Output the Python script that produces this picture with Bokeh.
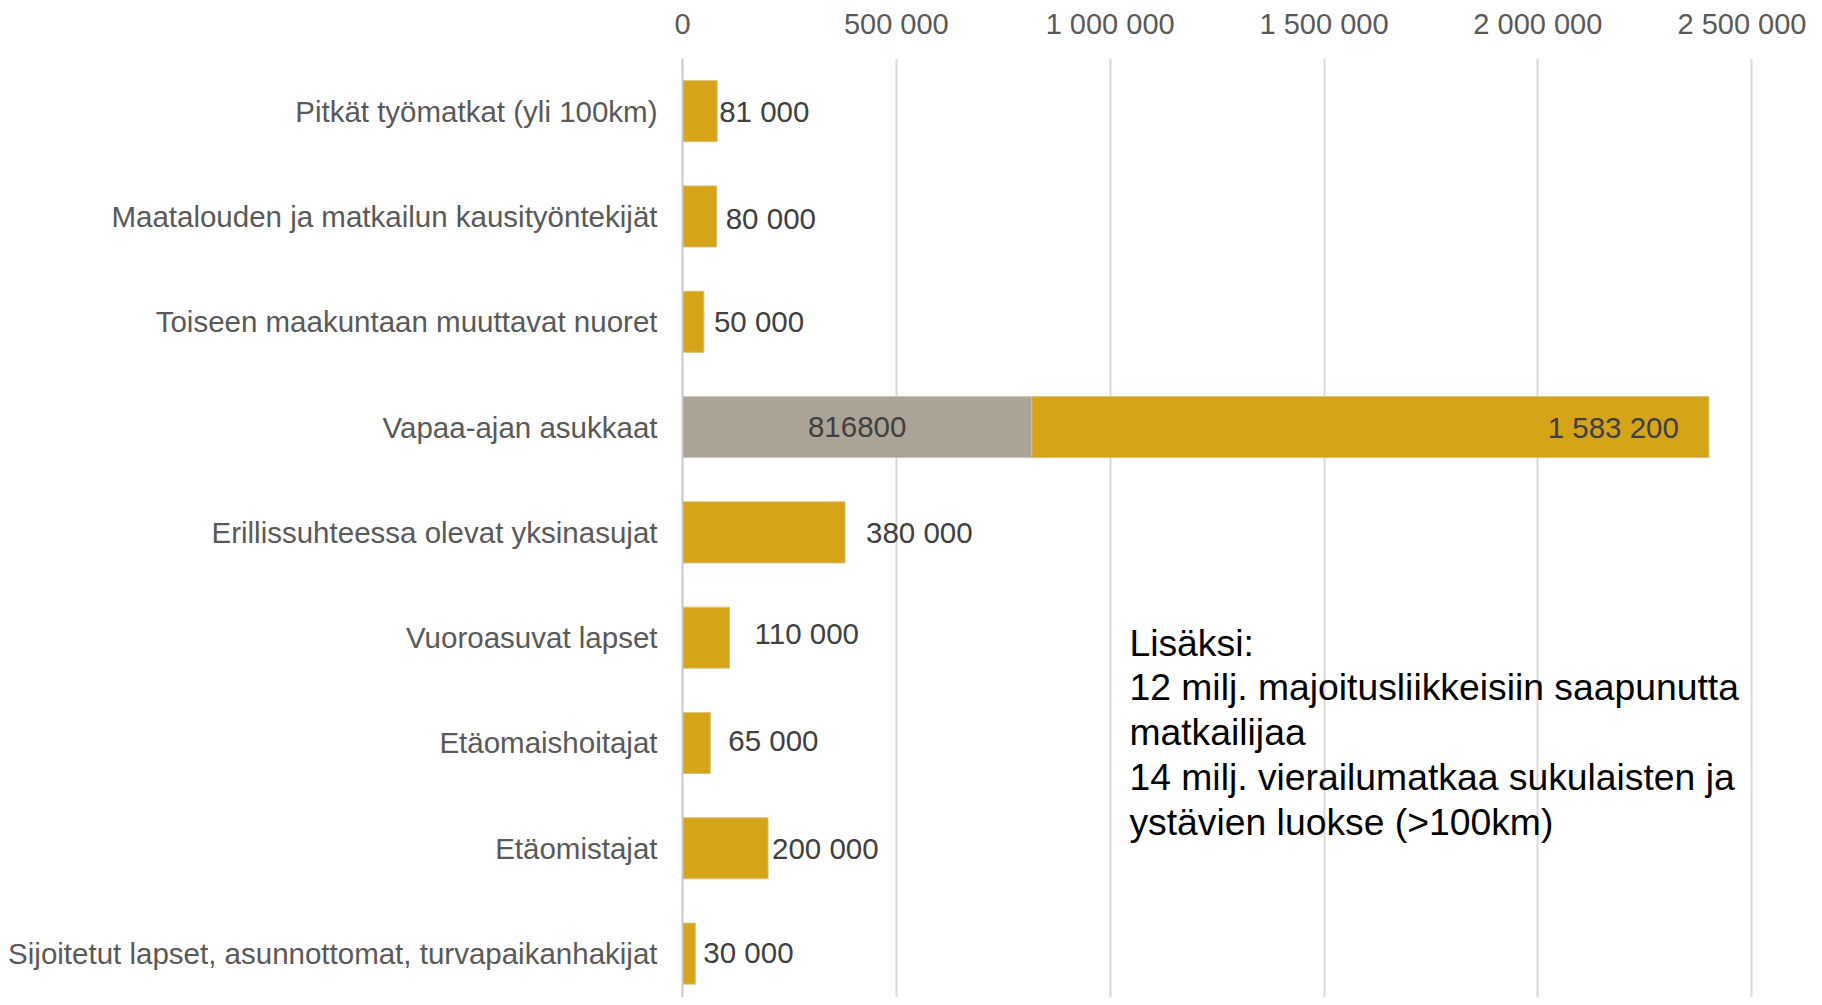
from bokeh.plotting import figure
from bokeh.models import ColumnDataSource, Range1d, FixedTicker
from bokeh.core.properties import value
from bokeh.embed import file_html
from bokeh.resources import INLINE

categories = [
    "Pitkät työmatkat (yli 100km)",
    "Maatalouden ja matkailun kausityöntekijät",
    "Toiseen maakuntaan muuttavat nuoret",
    "Vapaa-ajan asukkaat",
    "Erillissuhteessa olevat yksinasujat",
    "Vuoroasuvat lapset",
    "Etäomaishoitajat",
    "Etäomistajat",
    "Sijoitetut lapset, asunnottomat, turvapaikanhakijat",
]
gray_values = [0, 0, 0, 816800, 0, 0, 0, 0, 0]
gold_values = [81000, 80000, 50000, 1583200, 380000, 110000, 65000, 200000, 30000]
tick_values = [0, 500000, 1000000, 1500000, 2000000, 2500000]
tick_labels = ["0", "500 000", "1 000 000", "1 500 000", "2 000 000", "2 500 000"]
note_lines = [
    "Lisäksi:",
    "12 milj. majoitusliikkeisiin saapunutta",
    "matkailijaa",
    "14 milj. vierailumatkaa sukulaisten ja",
    "ystävien luokse (>100km)",
]
note_row = "Vuoroasuvat lapset"

# label pixel nudges (style only)
label_dx = [2, 9, 10, 0, 21, 25, 18, 4, 8]
label_dy = [0, 2, 0, 0, 0, -4, -2, 0, -1]

FONT = "Liberation Sans"
GOLD = "#D5A419"
GRAY = "#ABA396"

n = len(categories)
ypos = [n - i - 0.5 for i in range(n)]  # top row first

p = figure(
    width=1806, height=997,
    y_range=Range1d(0.083, n),
    x_range=Range1d(0, 2565000),
    x_axis_location="above",
    toolbar_location=None, output_backend="svg",
)
p.min_border = 0
p.min_border_left = 682
p.min_border_right = 27
p.min_border_top = 58
p.min_border_bottom = 0
p.outline_line_color = None
p.background_fill_color = "white"
p.border_fill_color = "white"

src = ColumnDataSource(dict(
    y=ypos,
    gold_left=gray_values,
    gold_right=[g + v for g, v in zip(gray_values, gold_values)],
))

gray_idx = [i for i, v in enumerate(gray_values) if v > 0]
gsrc = ColumnDataSource(dict(
    y=[ypos[i] for i in gray_idx],
    right=[gray_values[i] for i in gray_idx],
))
p.hbar(y="y", left=0, right="right", height=0.58, source=gsrc,
       fill_color=GRAY, line_color="#c9c3b8", line_width=1)
p.hbar(y="y", left="gold_left", right="gold_right", height=0.58, source=src,
       fill_color=GOLD, line_color="#d9c27a", line_width=1)

def fmt(v):
    return f"{v:,}".replace(",", " ")

out_idx = [i for i in range(n) if gray_values[i] == 0]
lsrc = ColumnDataSource(dict(
    x=[gold_values[i] for i in out_idx],
    y=[ypos[i] for i in out_idx],
    t=[fmt(gold_values[i]) for i in out_idx],
    dx=[label_dx[i] for i in out_idx],
    dy=[label_dy[i] for i in out_idx],
))
p.text(x="x", y="y", text="t", x_offset="dx", y_offset="dy", source=lsrc,
       text_font=value(FONT), text_font_size="29.5px", text_color="#404040",
       text_align="left", text_baseline="middle")

ssrc = ColumnDataSource(dict(
    x=[gray_values[i] / 2 for i in gray_idx],
    y=[ypos[i] for i in gray_idx],
    t=[str(gray_values[i]) for i in gray_idx],
))
p.text(x="x", y="y", text="t", source=ssrc,
       text_font=value(FONT), text_font_size="29.5px", text_color="#404040",
       text_align="center", text_baseline="middle")
s2src = ColumnDataSource(dict(
    x=[gray_values[i] + gold_values[i] for i in gray_idx],
    y=[ypos[i] for i in gray_idx],
    t=[fmt(gold_values[i]) for i in gray_idx],
))
p.text(x="x", y="y", text="t", x_offset=-30, source=s2src,
       text_font=value(FONT), text_font_size="29.5px", text_color="#404040",
       text_align="right", text_baseline="middle")

ny = ypos[categories.index(note_row)]
nsrc = ColumnDataSource(dict(
    x=[1045000] * len(note_lines),
    y=[ny] * len(note_lines),
    t=note_lines,
    dy=[5 + 44.8 * i for i in range(len(note_lines))],
))
p.text(x="x", y="y", text="t", y_offset="dy", source=nsrc,
       text_font=value(FONT), text_font_size="37.3px", text_color="#000000",
       text_align="left", text_baseline="middle")

xa = p.xaxis[0]
xa.ticker = FixedTicker(ticks=tick_values)
xa.major_label_overrides = {v: l for v, l in zip(tick_values, tick_labels)}
xa.axis_line_color = None
xa.major_tick_line_color = None
xa.minor_tick_line_color = None
xa.major_tick_in = 0
xa.major_tick_out = 0
xa.major_label_standoff = 19
xa.major_label_text_font = FONT
xa.major_label_text_font_size = "29px"
xa.major_label_text_color = "#595959"

ya = p.yaxis[0]
ya.ticker = FixedTicker(ticks=ypos)
ya.major_label_overrides = {y: c for y, c in zip(ypos, categories)}
ya.axis_line_color = "#c8c8c8"
ya.axis_line_width = 2
ya.major_tick_line_color = None
ya.minor_tick_line_color = None
ya.major_tick_in = 0
ya.major_tick_out = 0
ya.major_label_standoff = 25
ya.major_label_text_font = FONT
ya.major_label_text_font_size = "29.5px"
ya.major_label_text_color = "#595959"

p.xgrid.ticker = FixedTicker(ticks=tick_values)
p.xgrid.grid_line_color = "#d9d9d9"
p.xgrid.grid_line_width = 2
p.ygrid.grid_line_color = None

open("out.html", "w").write(file_html(p, INLINE))
